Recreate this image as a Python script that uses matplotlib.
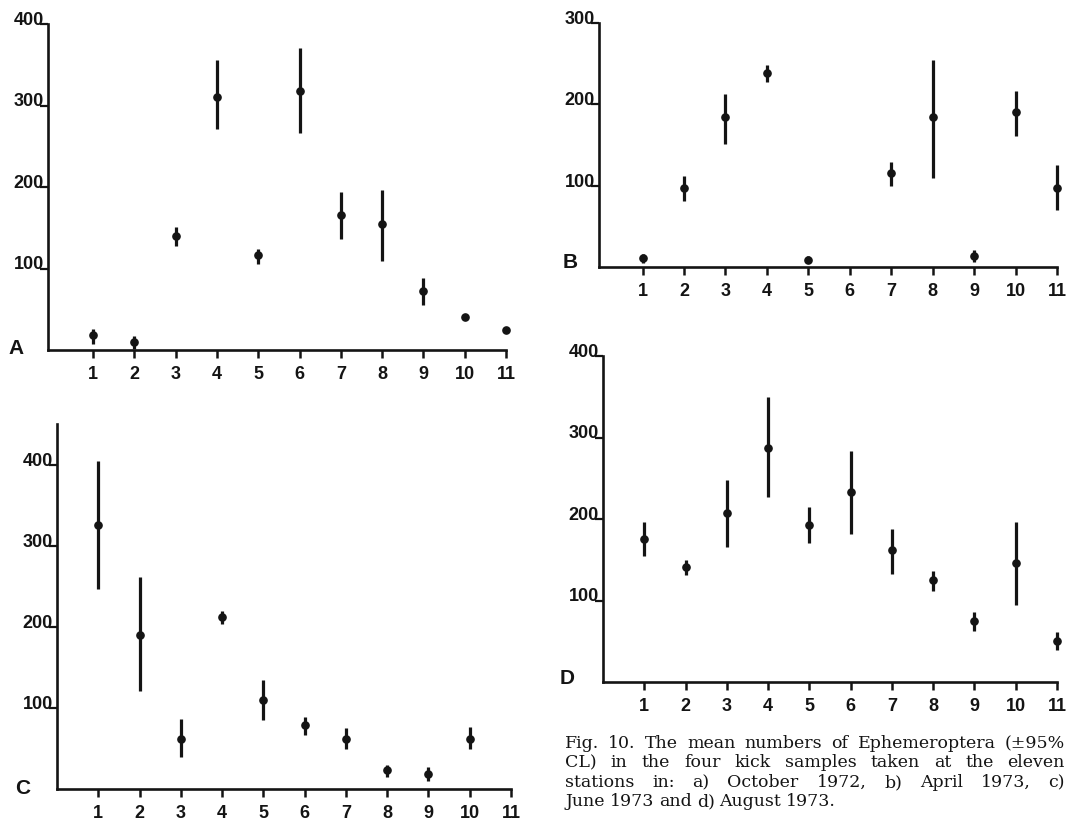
import matplotlib

matplotlib.use("Agg")
import matplotlib.pyplot as plt
import numpy as np

nan = np.nan
stations = list(range(1, 12))

# a) October 1972
a_mean = [18, 10, 140, 311, 116, 318, 166, 155, 73, 40, 24]
a_low = [7, 1, 128, 271, 105, 266, 136, 109, 55, nan, nan]
a_high = [26, 17, 151, 356, 124, 371, 194, 196, 88, nan, nan]

# b) April 1973
b_mean = [11, 97, 184, 238, 9, nan, 116, 184, 14, 191, 97]
b_low = [5, 81, 151, 228, 5, nan, 100, 109, 6, 161, 70]
b_high = [16, 112, 213, 248, 13, nan, 129, 254, 21, 217, 125]

# c) June 1973
c_mean = [325, 190, 62, 212, 110, 79, 62, 23, 19, 62, nan]
c_low = [247, 121, 39, 203, 85, 67, 49, 15, 10, 49, nan]
c_high = [405, 261, 86, 220, 134, 89, 75, 30, 27, 77, nan]

# d) August 1973
d_mean = [176, 141, 207, 287, 193, 233, 162, 125, 75, 146, 50]
d_low = [155, 131, 166, 227, 170, 181, 132, 112, 63, 95, 39]
d_high = [196, 150, 248, 350, 215, 283, 188, 136, 86, 196, 61]

caption_lines = [
    "Fig. 10. The mean numbers of Ephemeroptera (\u00b195%",
    "CL) in the four kick samples taken at the eleven",
    "stations in: a) October 1972, b) April 1973, c)",
    "June 1973 and d) August 1973.",
]

INK = "#141414"
W, H = 1070, 828


def px_box(left, right, top, bottom):
    return [left / W, 1 - bottom / H, (right - left) / W, (bottom - top) / H]


def draw_panel(fig, box, mean, low, high, ylim, yticks, xlim, letter, letter_xy):
    ax = fig.add_axes(px_box(*box))
    ax.vlines(stations, low, high, color=INK, lw=2.3, clip_on=False)
    ax.plot(stations, mean, "o", color=INK, ms=5.2, clip_on=False)
    ax.set_xlim(*xlim)
    ax.set_ylim(*ylim)
    ax.set_xticks(stations)
    ax.set_yticks(yticks)
    ax.set_yticklabels([str(t) for t in yticks])
    for side in ("top", "right"):
        ax.spines[side].set_visible(False)
    for side in ("left", "bottom"):
        ax.spines[side].set_linewidth(1.9)
        ax.spines[side].set_color(INK)
    ax.tick_params(axis="x", direction="out", length=6, width=1.8, pad=5,
                   color=INK, labelcolor=INK)
    ax.tick_params(axis="y", direction="out", length=6, width=1.6, pad=-3,
                   color=INK, labelcolor=INK)
    for lab in ax.get_xticklabels() + ax.get_yticklabels():
        lab.set_fontfamily("Liberation Sans")
        lab.set_fontweight("bold")
        lab.set_fontsize(13)
    for lab in ax.get_yticklabels():
        lab.set_verticalalignment("baseline")
    fig.text(letter_xy[0] / W, 1 - letter_xy[1] / H, letter, ha="center",
             va="center", fontsize=15, fontweight="bold",
             family="Liberation Sans", color=INK)
    return ax


fig = plt.figure(figsize=(W / 100, H / 100), dpi=100)

draw_panel(fig, (48, 506, 25, 351), a_mean, a_low, a_high, (0, 400),
           [100, 200, 300, 400], (-0.09, 11), "A", (16, 349))
draw_panel(fig, (599, 1057, 24, 268), b_mean, b_low, b_high, (0, 300),
           [100, 200, 300], (-0.05, 11), "B", (570, 263))
draw_panel(fig, (57, 511, 425, 790), c_mean, c_low, c_high, (0, 450),
           [100, 200, 300, 400], (0, 11), "C", (23, 789))
draw_panel(fig, (603, 1057, 357, 683), d_mean, d_low, d_high, (0, 400),
           [100, 200, 300, 400], (0, 11), "D", (567, 679))

# caption, justified like the printed page
renderer = fig.canvas.get_renderer()
x_start, line_width = 565, 500
for i, line in enumerate(caption_lines):
    y = 1 - (748 + 19.5 * i) / H
    words = line.split()
    items = [fig.text(0, y, w, fontsize=12.5, family="DejaVu Serif",
                      va="baseline", color=INK) for w in words]
    widths = [t.get_window_extent(renderer).width for t in items]
    if i < len(caption_lines) - 1:
        gap = max(2.5, (line_width - sum(widths)) / (len(words) - 1))
    else:
        gap = 5.0
    x = x_start
    for t, w in zip(items, widths):
        t.set_x(x / W)
        x += w + gap

fig.savefig("out.png", dpi=100, facecolor="white")
plt.close(fig)
